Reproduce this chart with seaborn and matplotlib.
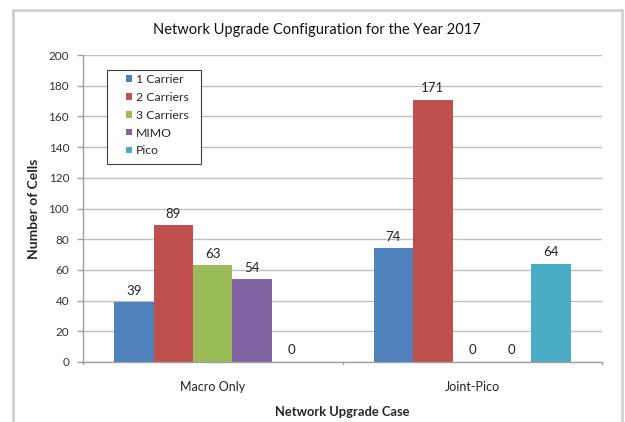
import matplotlib
matplotlib.use("Agg")
import matplotlib.pyplot as plt
import seaborn as sns
import pandas as pd
from matplotlib.lines import Line2D
from matplotlib.patches import Rectangle

categories = ["Macro Only", "Joint-Pico"]
series = ["1 Carrier", "2 Carriers", "3 Carriers", "MIMO", "Pico"]
macro_only = [39, 89, 63, 54, 0]
joint_pico = [74, 171, 0, 0, 64]
colors = ["#4F81BD", "#C0504D", "#9BBB59", "#8064A2", "#4BACC6"]
yticks = [0, 20, 40, 60, 80, 100, 120, 140, 160, 180, 200]

rows = []
for s, a, b in zip(series, macro_only, joint_pico):
    rows.append({"case": categories[0], "series": s, "value": a})
    rows.append({"case": categories[1], "series": s, "value": b})
df = pd.DataFrame(rows)

sns.set_theme(style="white")
plt.rcParams["font.family"] = ["Lato", "DejaVu Sans"]

fig = plt.figure(figsize=(6.25, 4.22), dpi=100)
ax = fig.add_axes([83/625, 1-362/422, 519/625, 307/422])

sns.barplot(data=df, x="case", y="value", hue="series", order=categories,
            hue_order=series, palette=colors, width=0.76, gap=0,
            saturation=1, ax=ax, edgecolor="none", linewidth=0)

for c in ax.containers:
    ax.bar_label(c, fmt="%d", padding=4, fontsize=9.5, color="#222222")

ax.set_xlim(-0.5, 1.5)
ax.set_ylim(0, 200)
ax.set_yticks(yticks)
ax.set_yticklabels([str(t) for t in yticks], fontsize=8.5, color="#333333")
ax.yaxis.grid(True, color="#c0c0c0", linewidth=1)
ax.set_axisbelow(True)
ax.tick_params(axis="y", length=4, width=1, color="#a0a0a0", direction="out", pad=6, left=True)
ax.tick_params(axis="x", length=0, labelsize=9, pad=14, colors="#222222")
for s in ["top", "right"]:
    ax.spines[s].set_visible(False)
for s in ["left", "bottom"]:
    ax.spines[s].set_color("#a0a0a0")
    ax.spines[s].set_linewidth(1)

# category boundary ticks on x-axis
for xb in [-0.5, 0.5, 1.5]:
    ax.plot([xb, xb], [0, -1.5], color="#a0a0a0", lw=1, clip_on=False, transform=ax.transData)

ax.set_xlabel("Network Upgrade Case", fontsize=9.3, fontweight="bold", labelpad=9)
ax.set_ylabel("Number of Cells", fontsize=10, fontweight="bold", labelpad=6)

fig.text(317/625, 1-30/422, "Network Upgrade Configuration for the Year 2017",
         ha="center", va="center", fontsize=10.5, color="#111111")

# legend box
ax.add_patch(Rectangle(((107-83)/519, (362-164)/307), 94/519, 94/307,
                       transform=ax.transAxes, facecolor="white",
                       edgecolor="#404040", linewidth=0.8, zorder=4, clip_on=False))
leg = ax.legend(loc="upper left", bbox_to_anchor=((126-83)/519, (362-74)/307),
                fontsize=8.8, frameon=False, handlelength=0.45,
                handleheight=0.45, handletextpad=0.37, labelspacing=0.56,
                borderpad=0, borderaxespad=0)
leg.set_title(None)
leg.set_zorder(5)

# outer chart frame
fc = "#d0d0d0"
fig.add_artist(Line2D([13/625, 13/625], [0, 1-10/422], color=fc, lw=2, transform=fig.transFigure))
fig.add_artist(Line2D([13/625, 622/625], [1-10/422, 1-10/422], color=fc, lw=2, transform=fig.transFigure))
fig.add_artist(Line2D([622/625, 622/625], [0, 1-10/422], color=fc, lw=2, transform=fig.transFigure))

fig.savefig("out.png", dpi=100)
